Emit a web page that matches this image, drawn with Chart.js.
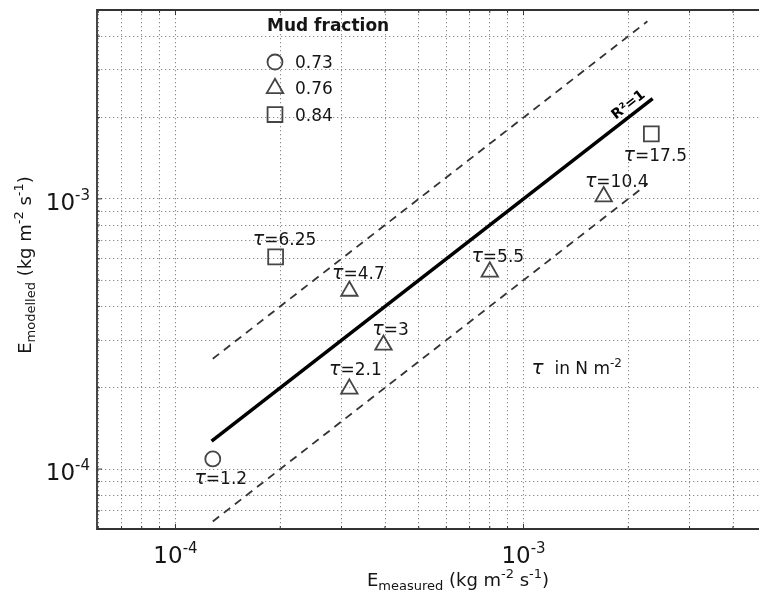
<!DOCTYPE html>
<html><head><meta charset="utf-8">
<script src="https://cdn.jsdelivr.net/npm/chart.js@4/dist/chart.umd.min.js"></script>
<style>html,body{margin:0;padding:0;background:#fff;}canvas{display:block;}</style>
</head><body>
<canvas id="c" width="759" height="597"></canvas>
<script>
// ---------------- data ----------------
const mudFractions = ['0.73', '0.76', '0.84'];
const circleX = [1.28e-4];
const circleY = [1.09e-4];
const circleTau = ['1.2'];
const triangleX = [3.16e-4, 3.96e-4, 3.16e-4, 8.0e-4, 1.70e-3];
const triangleY = [1.98e-4, 2.88e-4, 4.56e-4, 5.37e-4, 1.02e-3];
const triangleTau = ['2.1', '3', '4.7', '5.5', '10.4'];
const squareX = [1.94e-4, 2.33e-3];
const squareY = [6.1e-4, 1.74e-3];
const squareTau = ['6.25', '17.5'];
const oneToOneX = [1.27e-4, 2.35e-3];
const oneToOneY = [1.27e-4, 2.35e-3];
const upperX = [1.28e-4, 2.27e-3];
const upperY = [2.56e-4, 4.54e-3];
const lowerX = [1.28e-4, 2.27e-3];
const lowerY = [6.4e-5, 1.135e-3];
const xGridValues = [6e-5, 7e-5, 8e-5, 9e-5, 1e-4, 2e-4, 3e-4, 4e-4, 5e-4, 6e-4, 7e-4, 8e-4, 9e-4, 1e-3, 2e-3, 3e-3, 4e-3];
const yGridValues = [6e-5, 7e-5, 8e-5, 9e-5, 1e-4, 2e-4, 3e-4, 4e-4, 5e-4, 6e-4, 7e-4, 8e-4, 9e-4, 1e-3, 2e-3, 3e-3, 4e-3];
const majorTickValues = [1e-4, 1e-3];
const majorTickExponents = ['-4', '-3'];
const xRange = [5.95e-5, 4.75e-3];
const yRange = [6e-5, 5e-3];

// ---------------- styles (label placement, px offsets from marker) ----------------
const circleTauOffsets = [[8, 19]];
const triangleTauOffsets = [[6, -20], [7, -16], [9, -18], [8, -16], [13, -16]];
const squareTauOffsets = [[9, -18], [4, 21]];

const FONT = 'DejaVu Sans';
const TXT = '#151515';
const MK = '#454545';

const pts = (xs, ys) => xs.map((x, i) => ({x: x, y: ys[i]}));

function drawRich(ctx, segs, x, y, align) {
  let w = 0;
  segs.forEach(s => {
    ctx.font = (s.style || '') + ' ' + (s.weight || '') + ' ' + s.size + 'px "' + FONT + '"';
    s.w = ctx.measureText(s.t).width; w += s.w;
  });
  let cx = align === 'center' ? x - w / 2 : (align === 'right' ? x - w : x);
  ctx.textBaseline = 'alphabetic';
  ctx.textAlign = 'left';
  segs.forEach(s => {
    ctx.font = (s.style || '') + ' ' + (s.weight || '') + ' ' + s.size + 'px "' + FONT + '"';
    ctx.fillText(s.t, cx, y + (s.dy || 0));
    cx += s.w;
  });
  return w;
}

const tauPlugin = {
  id: 'tauLabels',
  afterDatasetsDraw(chart) {
    const ctx = chart.ctx;
    ctx.save();
    ctx.fillStyle = TXT;
    chart.data.datasets.forEach((ds, i) => {
      if (!ds.tau) return;
      const meta = chart.getDatasetMeta(i);
      meta.data.forEach((el, j) => {
        const off = ds.tauOffsets[j];
        drawRich(ctx, [
          {t: '\u03C4', size: 19, style: 'italic'},
          {t: '=' + ds.tau[j], size: 17}
        ], el.x + off[0], el.y + off[1] + 6, 'center');
      });
    });
    ctx.restore();
  }
};

const decorPlugin = {
  id: 'decor',
  afterDraw(chart) {
    const ctx = chart.ctx, a = chart.chartArea;
    const xs = chart.scales.x, ys = chart.scales.y;
    ctx.save();
    // axes frame
    ctx.strokeStyle = '#333';
    ctx.lineWidth = 1.8;
    ctx.beginPath();
    ctx.moveTo(a.right + 2, a.top); ctx.lineTo(a.left, a.top);
    ctx.lineTo(a.left, a.bottom); ctx.lineTo(a.right + 2, a.bottom);
    ctx.stroke();
    // tick marks (inside)
    ctx.lineWidth = 1;
    xGridValues.forEach(v => {
      const px = xs.getPixelForValue(v), L = majorTickValues.includes(v) ? 5 : 3;
      ctx.beginPath(); ctx.moveTo(px, a.bottom); ctx.lineTo(px, a.bottom - L);
      ctx.moveTo(px, a.top); ctx.lineTo(px, a.top + L); ctx.stroke();
    });
    yGridValues.forEach(v => {
      const py = ys.getPixelForValue(v), L = majorTickValues.includes(v) ? 5 : 3;
      ctx.beginPath(); ctx.moveTo(a.left, py); ctx.lineTo(a.left + L, py); ctx.stroke();
    });
    ctx.fillStyle = TXT;
    // tick labels
    majorTickValues.forEach((v, i) => {
      const px = xs.getPixelForValue(v);
      drawRich(ctx, [{t: '10', size: 23}, {t: majorTickExponents[i], size: 15, dy: -10}], px, a.bottom + 34, 'center');
      const py = ys.getPixelForValue(v);
      drawRich(ctx, [{t: '10', size: 23}, {t: majorTickExponents[i], size: 15, dy: -10}], a.left - 7, py + 11, 'right');
    });
    // axis titles
    drawRich(ctx, [
      {t: 'E', size: 18}, {t: 'measured', size: 13, dy: 4},
      {t: ' (kg m', size: 18}, {t: '-2', size: 13, dy: -8},
      {t: ' s', size: 18}, {t: '-1', size: 13, dy: -8}, {t: ')', size: 18}
    ], 458, 586, 'center');
    ctx.save();
    ctx.translate(31, 265);
    ctx.rotate(-Math.PI / 2);
    drawRich(ctx, [
      {t: 'E', size: 18}, {t: 'modelled', size: 13, dy: 4},
      {t: ' (kg m', size: 18}, {t: '-2', size: 13, dy: -8},
      {t: ' s', size: 18}, {t: '-1', size: 13, dy: -8}, {t: ')', size: 18}
    ], 0, 0, 'center');
    ctx.restore();
    // legend
    const lx = a.left + 178, ly = a.top + 52, step = 26.3;
    drawRich(ctx, [{t: 'Mud fraction', size: 17, weight: 'bold'}], a.left + 170, a.top + 21, 'left');
    const markerSets = chart.data.datasets.filter(d => d.legendLabel);
    markerSets.forEach((d, i) => {
      const y = ly + i * step;
      ctx.strokeStyle = d.borderColor; ctx.lineWidth = d.borderWidth; ctx.fillStyle = 'rgba(0,0,0,0)';
      Chart.helpers.drawPoint(ctx, {pointStyle: d.pointStyle, radius: d.pointRadius, borderWidth: d.borderWidth, rotation: 0}, lx, y);
      ctx.fillStyle = TXT;
      drawRich(ctx, [{t: d.legendLabel, size: 17}], lx + 20, y + 6, 'left');
    });
    // R^2=1 label along the 1:1 line
    const lm = chart.getDatasetMeta(0).data;
    const p0 = lm[0], p1 = lm[lm.length - 1];
    const ang = Math.atan2(p1.y - p0.y, p1.x - p0.x);
    const dx = Math.cos(ang), dy = Math.sin(ang);
    const cxp = p1.x - 23 * dx + 11 * dy, cyp = p1.y - 23 * dy - 11 * dx;
    ctx.save();
    ctx.translate(cxp, cyp); ctx.rotate(ang);
    ctx.fillStyle = '#000';
    drawRich(ctx, [{t: 'R\u00B2=1', size: 14, weight: 'bold'}], 0, 5, 'center');
    ctx.restore();
    // tau unit note
    const ux = xs.getPixelForValue(1.055e-3), uy = ys.getPixelForValue(2.37e-4);
    ctx.fillStyle = TXT;
    drawRich(ctx, [{t: '\u03C4', size: 20, style: 'italic'}, {t: '  in N m', size: 17}, {t: '-2', size: 12, dy: -7}], ux, uy + 6, 'left');
    ctx.restore();
  }
};

const gridOpts = {color: '#8c8c8c', lineWidth: 1, drawTicks: false};
const borderOpts = {display: false, dash: [1.3, 2.7]};

new Chart(document.getElementById('c'), {
  type: 'scatter',
  data: {
    datasets: [
      {label: 'R2=1', data: pts(oneToOneX, oneToOneY), showLine: true, borderColor: '#000', borderWidth: 3.5, pointRadius: 0, order: 3},
      {label: 'upper', data: pts(upperX, upperY), showLine: true, borderColor: '#333', borderWidth: 1.8, borderDash: [8, 6], pointRadius: 0, order: 3},
      {label: 'lower', data: pts(lowerX, lowerY), showLine: true, borderColor: '#333', borderWidth: 1.8, borderDash: [8, 6], pointRadius: 0, order: 3},
      {label: mudFractions[0], legendLabel: mudFractions[0], data: pts(circleX, circleY), tau: circleTau, tauOffsets: circleTauOffsets,
        pointStyle: 'circle', pointRadius: 7.5, borderColor: MK, borderWidth: 1.8, backgroundColor: 'rgba(0,0,0,0)', order: 1},
      {label: mudFractions[1], legendLabel: mudFractions[1], data: pts(triangleX, triangleY), tau: triangleTau, tauOffsets: triangleTauOffsets,
        pointStyle: 'triangle', pointRadius: 9.5, borderColor: MK, borderWidth: 1.8, backgroundColor: 'rgba(0,0,0,0)', order: 1},
      {label: mudFractions[2], legendLabel: mudFractions[2], data: pts(squareX, squareY), tau: squareTau, tauOffsets: squareTauOffsets,
        pointStyle: 'rect', pointRadius: 10.5, borderColor: MK, borderWidth: 1.8, backgroundColor: 'rgba(0,0,0,0)', order: 1}
    ]
  },
  options: {
    responsive: false,
    animation: false,
    layout: {autoPadding: false, padding: {top: 10, right: 0, left: 0, bottom: 0}},
    plugins: {legend: {display: false}, tooltip: {enabled: false}},
    elements: {line: {tension: 0}},
    scales: {
      x: {
        type: 'logarithmic', min: xRange[0], max: xRange[1],
        afterBuildTicks: s => { s.ticks = xGridValues.map(v => ({value: v})); },
        afterFit: s => { s.height = 68; },
        ticks: {display: false, autoSkip: false},
        grid: gridOpts, border: borderOpts
      },
      y: {
        type: 'logarithmic', min: yRange[0], max: yRange[1],
        afterBuildTicks: s => { s.ticks = yGridValues.map(v => ({value: v})); },
        afterFit: s => { s.width = 97; },
        ticks: {display: false, autoSkip: false},
        grid: gridOpts, border: borderOpts
      }
    }
  },
  plugins: [tauPlugin, decorPlugin]
});
</script>
</body></html>
